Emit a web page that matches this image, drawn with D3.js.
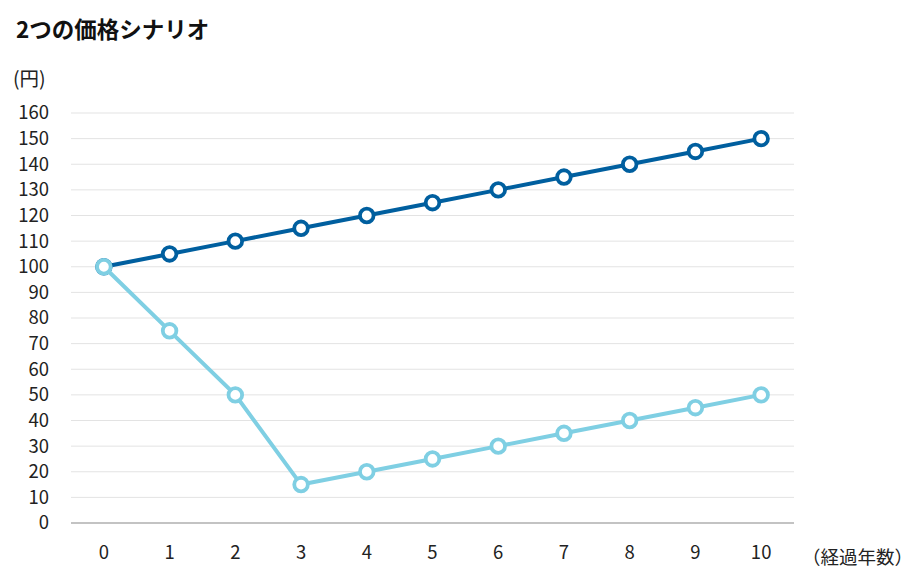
<!DOCTYPE html>
<html><head><meta charset="utf-8">
<script src="https://cdn.jsdelivr.net/npm/d3@7"></script>
<style>body{margin:0;background:#fff;font-family:"Noto Sans CJK JP","Noto Sans",sans-serif;}</style>
</head><body>
<svg id="c" width="916" height="582"></svg>
<script>
const years = [0,1,2,3,4,5,6,7,8,9,10];
const scenarioA = [100,105,110,115,120,125,130,135,140,145,150];
const scenarioB = [100,75,50,15,20,25,30,35,40,45,50];
const yTicks = [0,10,20,30,40,50,60,70,80,90,100,110,120,130,140,150,160];
const title = "2つの価格シナリオ";
const yUnit = "(円)";
const xUnit = "（経過年数）";

(function(){
const svg = d3.select("#c");
const pL = 71, pR = 794, pT = 113, pB = 523;
const x = d3.scaleBand().domain(years).range([pL, pR]);
const y = d3.scaleLinear().domain([0,160]).range([pB, pT]);
const cx = d => x(d) + x.bandwidth()/2;
const ff = "'Noto Sans CJK JP','Noto Sans',sans-serif";

svg.append("text").attr("x",16).attr("y",38).attr("font-size",22.5).attr("font-weight","bold").attr("fill","#111").attr("font-family",ff).text(title);
svg.append("text").attr("x",13).attr("y",86).attr("font-size",19.5).attr("fill","#222").attr("font-family",ff).text(yUnit);

svg.append("g").selectAll("line").data(yTicks.filter(t=>t>0)).join("line")
  .attr("x1",pL).attr("x2",pR).attr("y1",d=>y(d)).attr("y2",d=>y(d))
  .attr("stroke","#e3e3e3").attr("stroke-width",1);
svg.append("line").attr("x1",pL).attr("x2",pR).attr("y1",y(0)).attr("y2",y(0)).attr("stroke","#888").attr("stroke-width",1.2);

const yAxis = d3.axisLeft(y).tickValues(yTicks).tickSize(0).tickPadding(0);
const ga = svg.append("g").attr("transform",`translate(49,0)`).call(yAxis);
ga.select(".domain").remove();
ga.selectAll("text").attr("font-size",18.5).attr("fill","#222").attr("font-family",ff);

const xAxis = d3.axisBottom(x).tickSize(0).tickPadding(0);
const gx = svg.append("g").attr("transform",`translate(0,546)`).call(xAxis);
gx.select(".domain").remove();
gx.selectAll("text").attr("font-size",18.5).attr("fill","#222").attr("font-family",ff);
svg.append("text").attr("x",802).attr("y",564).attr("font-size",18.5).attr("fill","#222").attr("font-family",ff).text(xUnit);

const line = d3.line().x((d,i)=>cx(years[i])).y(d=>y(d));
function series(vals, color){
  svg.append("path").datum(vals).attr("d",line).attr("fill","none").attr("stroke",color).attr("stroke-width",4);
  svg.append("g").selectAll("circle").data(vals).join("circle")
    .attr("cx",(d,i)=>cx(years[i])).attr("cy",d=>y(d)).attr("r",6.8)
    .attr("fill","#fff").attr("stroke",color).attr("stroke-width",3.8);
}
series(scenarioA, "#005f9f");
series(scenarioB, "#7fcfe3");
})();
</script>
</body></html>
